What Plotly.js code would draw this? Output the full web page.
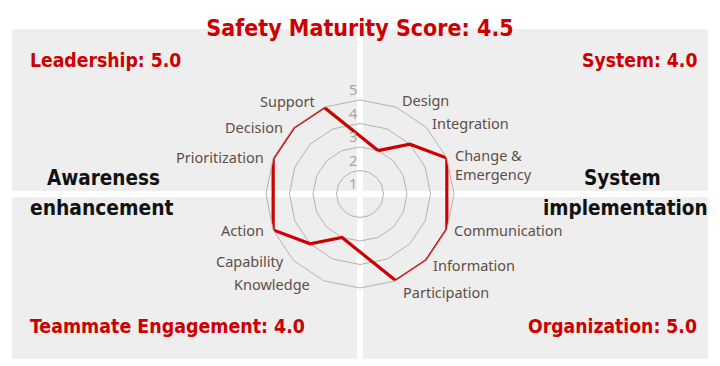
<!DOCTYPE html>
<html><head><meta charset="utf-8">
<script src="https://cdn.plot.ly/plotly-3.0.1.min.js"></script>
<style>html,body{margin:0;padding:0;background:#fff;}#chart{width:720px;height:366px;}</style>
</head><body><div id="chart"></div>
<script>
// 16 angular slots: 12 labelled items + 4 unlabelled quadrant boundaries
const categories = [' ', 'Design', 'Integration', 'Change &<br>Emergency', '  ', 'Communication', 'Information', 'Participation', '   ', 'Knowledge', 'Capability', 'Action', '    ', 'Prioritization', 'Decision', 'Support'];
const values = [null, 3, 4, 5, null, 5, 5, 5, null, 3, 4, 5, null, 5, 5, 5];
const radialTicks = [1, 2, 3, 4, 5];
const sectorNames = ['Leadership', 'System', 'Teammate Engagement', 'Organization'];
const sectorScores = [5.0, 4.0, 4.0, 5.0];
const overallScore = 4.5;
const areaLabels = [['Awareness', 'enhancement'], ['System', 'implementation']];

const RED = '#cc0000';
const BOLD = '"DejaVu Sans Condensed", "Noto Sans", sans-serif';
const px = v => v / 720;
const py = v => 1 - v / 366;

const theta = categories.concat([categories[1]]);
const r = values.concat([values[1]]);

const trace = {
  type: 'scatterpolar', mode: 'lines', theta: theta, r: r, connectgaps: true,
  line: {color: RED, width: 3.2}, hoverinfo: 'skip'
};

const grey = '#edeeed';
const shapes = [
  [12, 357, 29, 191], [363, 708, 29, 191], [12, 357, 197, 359], [363, 708, 197, 359]
].map(b => ({type: 'rect', xref: 'paper', yref: 'paper', layer: 'below',
  x0: px(b[0]), x1: px(b[1]), y0: py(b[3]), y1: py(b[2]), fillcolor: grey, line: {width: 0}}));

function ann(text, x, y, xanchor, size, color, family, weight) {
  return {text: text, x: px(x), y: py(y), xref: 'paper', yref: 'paper', xanchor: xanchor, yanchor: 'middle',
    showarrow: false, borderpad: 0, font: {family: family || BOLD, size: size, color: color, weight: weight || 'bold'}};
}
const annotations = [
  ann(sectorNames[0] + ': ' + sectorScores[0].toFixed(1), 29, 61, 'left', 19.2, RED),
  ann(sectorNames[1] + ': ' + sectorScores[1].toFixed(1), 698, 61, 'right', 19.2, RED),
  ann(sectorNames[2] + ': ' + sectorScores[2].toFixed(1), 29, 326, 'left', 19.4, RED),
  ann(sectorNames[3] + ': ' + sectorScores[3].toFixed(1), 698, 326, 'right', 19.2, RED),
  ann(areaLabels[0][0], 104, 178, 'center', 20.5, '#111'),
  ann(areaLabels[0][1], 102, 208, 'center', 20.8, '#111'),
  ann(areaLabels[1][0], 622, 178, 'center', 20.5, '#111'),
  ann(areaLabels[1][1], 625, 208, 'center', 20.5, '#111')
];

// placement of the angular item labels (layout only): [x, yCenter, anchor]
const labelPlacement = {
  'Design': [401, 100, 'left'], 'Integration': [431, 123, 'left'], 'Change &<br>Emergency': [454, 164.5, 'left'],
  'Communication': [453, 230, 'left'], 'Information': [432, 265, 'left'], 'Participation': [402, 292, 'left'],
  'Knowledge': [311, 284, 'right'], 'Capability': [285, 261, 'right'], 'Action': [265, 230, 'right'],
  'Prioritization': [265, 157, 'right'], 'Decision': [284, 127, 'right'], 'Support': [316, 101, 'right']
};
const LABEL_FONT = '"Noto Sans", sans-serif';
categories.forEach(c => {
  const p = labelPlacement[c];
  if (!p) return;
  const a = ann(c, p[0], p[1], p[2], 14.5, '#5e4e47', LABEL_FONT, 'normal');
  a.align = 'left';
  annotations.push(a);
});

const layout = {
  width: 720, height: 366, margin: {l: 0, r: 0, t: 0, b: 0},
  paper_bgcolor: '#ffffff', showlegend: false,
  title: {text: 'Safety Maturity Score: ' + overallScore.toFixed(1), x: 0.5, xanchor: 'center',
    y: py(28), yanchor: 'middle', yref: 'container',
    font: {family: BOLD, size: 23, color: RED, weight: 'bold'}},
  shapes: shapes, annotations: annotations,
  polar: {
    domain: {x: [px(266), px(454)], y: [py(288), py(100)]},
    bgcolor: 'rgba(0,0,0,0)', gridshape: 'linear',
    angularaxis: {type: 'category', categoryorder: 'array', categoryarray: categories,
      direction: 'clockwise', rotation: 90, showline: true, linecolor: '#b9b1ad', linewidth: 1,
      showgrid: false, ticks: '', showticklabels: false},
    radialaxis: {range: [1, 5], tickmode: 'array', tickvals: radialTicks,
      ticktext: radialTicks.map(v => v + '<br> '), angle: 90, side: 'counterclockwise', tickangle: 90,
      showline: false, ticks: '', gridcolor: '#b9b1ad', gridwidth: 1,
      tickfont: {family: '"Noto Sans", sans-serif', size: 14.5, color: '#a5a5a5'}}
  }
};

Plotly.newPlot('chart', [trace], layout, {displayModeBar: false, staticPlot: true});
</script>
</body></html>
